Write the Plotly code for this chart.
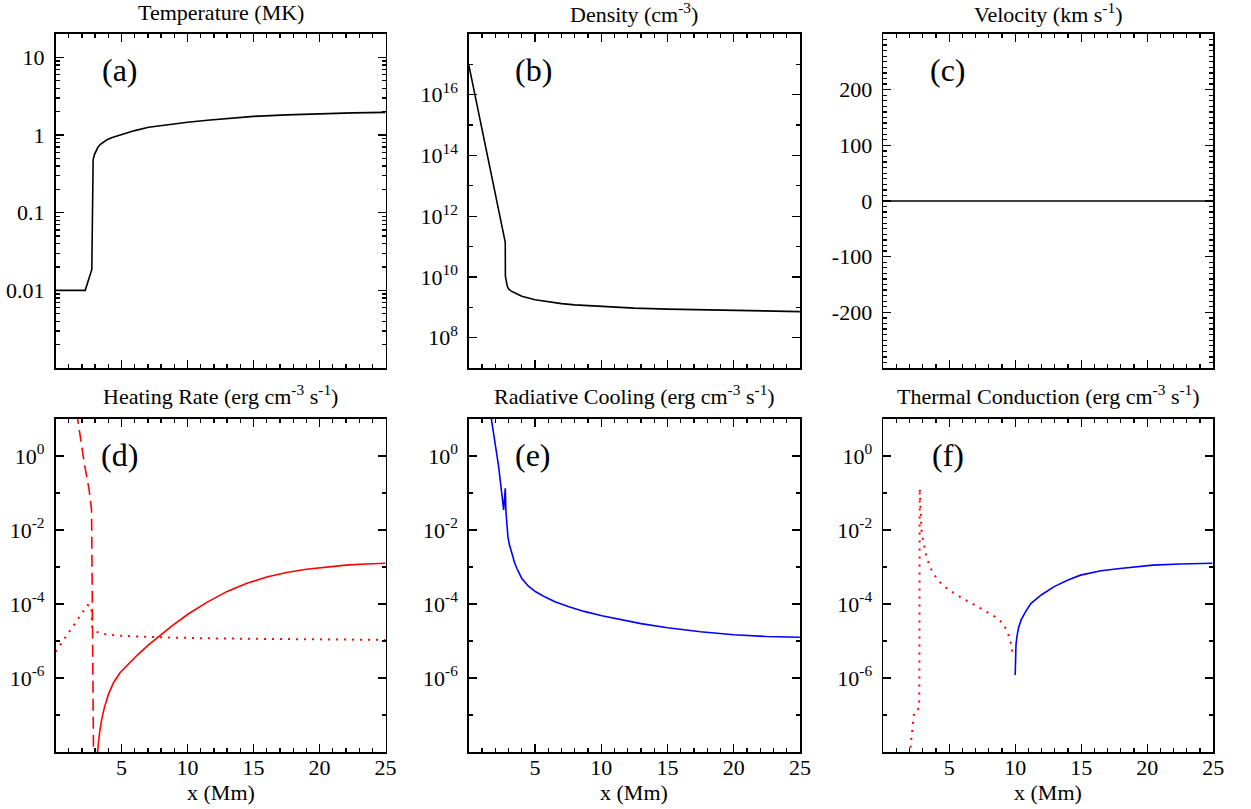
import plotly.graph_objects as go

# ---------------- data ----------------
# (a) Temperature (MK)
temp_x = [0, 2.25, 2.75, 2.78, 2.8, 2.85, 2.95, 3.05, 3.2, 3.4, 3.6, 3.9, 4.3, 4.7, 5.05, 6, 7.05,
          8, 9, 10, 11.5, 13, 15, 17.5, 20, 22.5, 25]
temp_y = [0.01, 0.01, 0.0186, 0.1, 0.35, 0.48, 0.56, 0.62, 0.69, 0.76, 0.81, 0.87, 0.93, 0.98, 1.03,
          1.14, 1.26, 1.33, 1.4, 1.46, 1.55, 1.64, 1.74, 1.82, 1.88, 1.93, 1.96]

# (b) Density (cm^-3)
dens_x = [0, 2.75, 2.76, 2.83, 2.9, 3.0, 3.2, 3.5, 4, 5, 6, 7, 8, 10, 12.5, 15, 17.5, 20, 22.5, 25]
dens_y = [9.5e16, 1.38e11, 1.05e10, 6.3e9, 5.0e9, 4.0e9, 3.4e9, 2.95e9, 2.3e9, 1.78e9, 1.5e9, 1.32e9,
          1.2e9, 1.05e9, 9.4e8, 8.7e8, 8.2e8, 7.8e8, 7.45e8, 7.2e8]

# (c) Velocity (km s^-1)
vel_x = [0, 25]
vel_y = [0, 0]

# (d) Heating rate (log10 of erg cm^-3 s^-1): solid, dashed, dotted
heat_x = [3.18, 3.25, 3.35, 3.5, 3.7, 4.0, 4.4, 4.9, 5.5, 6.2, 7.0, 7.8, 8.8, 10.05, 11.5, 13, 14.5,
          16, 17.5, 19, 20.5, 22, 23.5, 25]
heat_log = [-8.0, -7.75, -7.45, -7.12, -6.8, -6.45, -6.12, -5.85, -5.62, -5.38, -5.12, -4.88, -4.6,
            -4.27, -3.95, -3.66, -3.44, -3.27, -3.15, -3.06, -3.0, -2.95, -2.92, -2.9]
heat_dash_x = [1.6, 1.68, 2.18, 2.55, 2.73, 2.9]
heat_dash_log = [1.19, 1.0, -0.2, -0.92, -1.46, -9.0]
heat_dot_x = [0, 2.43, 2.72, 2.76, 2.93, 3.3, 4, 5, 7.8, 12, 18, 25]
heat_dot_log = [-5.29, -4.03, -4.06, -4.6, -4.7, -4.79, -4.83, -4.86, -4.9, -4.93, -4.95, -4.97]

# (e) Radiative cooling (log10)
rad_x = [1.62, 1.7, 2.25, 2.63, 2.75, 2.8, 2.88, 2.95, 3.05, 3.15, 3.25, 3.45, 3.63, 4.0, 4.5, 5.05,
         5.8, 6.5, 7.5, 8.7, 10.05, 11.5, 13, 15, 17.5, 20, 22.5, 25]
rad_log = [1.19, 1.0, -0.29, -1.46, -0.87, -1.5, -1.9, -2.18, -2.38, -2.52, -2.63, -2.88, -3.04, -3.31,
           -3.52, -3.67, -3.82, -3.94, -4.07, -4.2, -4.32, -4.43, -4.53, -4.64, -4.75, -4.83, -4.88, -4.9]

# (f) Thermal conduction (log10): dotted (red) and solid (blue)
cond_dot_x = [2.0, 2.35, 2.72, 2.74, 2.77, 2.8, 2.84, 2.9, 2.97, 3.1, 3.22, 3.45, 3.72, 4.2, 4.97,
              5.8, 6.71, 7.6, 8.46, 9.08, 9.46, 9.7, 9.83]
cond_dot_log = [-8.1, -6.91, -6.82, -6.05, -0.87, -1.3, -1.73, -2.0, -2.18, -2.43, -2.63, -2.9, -3.13,
                -3.38, -3.62, -3.8, -3.98, -4.15, -4.34, -4.52, -4.79, -5.1, -5.42]
cond_x = [10.0, 10.03, 10.06, 10.13, 10.25, 10.45, 10.8, 11.2, 12, 12.95, 14, 14.95, 16.5, 17.94,
          20.43, 22.5, 24.93]
cond_log = [-5.92, -5.4, -5.1, -4.88, -4.65, -4.43, -4.2, -3.98, -3.75, -3.53, -3.35, -3.22, -3.1,
            -3.04, -2.95, -2.92, -2.9]

# tick labels
x_ticks = [5, 10, 15, 20, 25]
temp_ticks = [0.01, 0.1, 1, 10]
temp_ticktext = ["0.01", "0.1", "1", "10"]
dens_ticks = [1e8, 1e10, 1e12, 1e14, 1e16]
dens_ticktext = ["10<sup>8</sup>", "10<sup>10</sup>", "10<sup>12</sup>", "10<sup>14</sup>", "10<sup>16</sup>"]
vel_ticks = [-200, -100, 0, 100, 200]
vel_ticktext = ["-200", "-100", "0", "100", "200"]
rate_ticks = [1e-6, 1e-4, 1e-2, 1e0]
rate_ticktext = ["10<sup>-6</sup>", "10<sup>-4</sup>", "10<sup>-2</sup>", "10<sup>0</sup>"]

titles = ["Temperature (MK)", "Density (cm<sup>-3</sup>)", "Velocity (km s<sup>-1</sup>)",
          "Heating Rate (erg cm<sup>-3</sup> s<sup>-1</sup>)",
          "Radiative Cooling (erg cm<sup>-3</sup> s<sup>-1</sup>)",
          "Thermal Conduction (erg cm<sup>-3</sup> s<sup>-1</sup>)"]
panel_labels = ["(a)", "(b)", "(c)", "(d)", "(e)", "(f)"]


def delog(vals):
    return [10.0 ** v for v in vals]


# ---------------- figure ----------------
FW, FH = 1251, 809
FONT = "Liberation Serif, Times New Roman, serif"
RED, BLUE, BLACK = "#ff0000", "#0000ff", "#000000"


def px_x(p):
    return p / FW


def px_y(p):
    return 1 - p / FH


fig = go.Figure()


def add(x, y, n, color, dash="solid", width=1.6):
    ax = "" if n == 1 else str(n)
    fig.add_trace(go.Scatter(x=x, y=y, mode="lines", xaxis="x" + ax, yaxis="y" + ax,
                             line=dict(color=color, width=width, dash=dash),
                             showlegend=False, hoverinfo="skip"))


add(temp_x, temp_y, 1, BLACK)
add(dens_x, dens_y, 2, BLACK)
add(vel_x, vel_y, 3, BLACK)
add(heat_dash_x, delog(heat_dash_log), 4, RED, dash="12px,6px")
add(heat_dot_x, delog(heat_dot_log), 4, RED, dash="2px,6px", width=2)
add(heat_x, delog(heat_log), 4, RED)
add(rad_x, delog(rad_log), 5, BLUE)
add(cond_dot_x, delog(cond_dot_log), 6, RED, dash="2px,6px", width=2)
add(cond_x, delog(cond_log), 6, BLUE)

xpx = [(56, 389), (473, 807), (891, 1224)]
xdom = [[px_x(a), px_x(b)] for a, b in xpx]
ydom_top = [px_y(368), px_y(34)]
ydom_bot = [px_y(752), px_y(419)]

tickfont = dict(family=FONT, size=22, color=BLACK)
common = dict(showline=True, linecolor=BLACK, linewidth=1.6, mirror="ticks", ticks="inside",
              tickcolor=BLACK, tickwidth=1.3, showgrid=False, zeroline=False, tickfont=tickfont)


def log_minor(lo, hi):
    vals = []
    for k in range(lo, hi + 1):
        for m in range(2, 10):
            vals.append(m * 10.0 ** k)
    return vals


def minor(**kw):
    d = dict(ticks="inside", ticklen=4, tickcolor=BLACK, tickwidth=1.3, showgrid=False)
    d.update(kw)
    return d


layout = dict(width=FW, height=FH, margin=dict(l=0, r=0, t=0, b=0, pad=0), autosize=False,
              paper_bgcolor="white", plot_bgcolor="white", showlegend=False, hovermode=False)

for i in range(6):
    n = i + 1
    ax = "" if n == 1 else str(n)
    row = 0 if i < 3 else 1
    col = i % 3
    xa = dict(common, domain=xdom[col], range=[0, 25], anchor="y" + ax,
              tickmode="array", tickvals=x_ticks, ticklen=8,
              minor=minor(tickmode="linear", tick0=0, dtick=1),
              showticklabels=(row == 1), ticklabelstandoff=-5)
    ya = dict(common, domain=ydom_top if row == 0 else ydom_bot, anchor="x" + ax, ticklen=8,
              ticklabelstandoff=5)
    if n == 1:
        ya.update(type="log", range=[-3, 1.301], tickmode="array", tickvals=temp_ticks,
                  ticktext=temp_ticktext, minor=minor(tickmode="array", tickvals=log_minor(-3, 1)))
    elif n == 2:
        ya.update(type="log", range=[7, 18], tickmode="array", tickvals=dens_ticks,
                  ticktext=dens_ticktext,
                  minor=minor(tickmode="array", tickvals=[1e9, 1e11, 1e13, 1e15, 1e17]))
    elif n == 3:
        ya.update(type="linear", range=[-300, 300], tickmode="array", tickvals=vel_ticks,
                  ticktext=vel_ticktext, minor=minor(tickmode="linear", tick0=0, dtick=10))
    else:
        ya.update(type="log", range=[-8, 1], tickmode="array", tickvals=rate_ticks,
                  ticktext=rate_ticktext,
                  minor=minor(tickmode="array", tickvals=[1e-7, 1e-5, 1e-3, 1e-1]))
    layout["xaxis" + ax] = xa
    layout["yaxis" + ax] = ya

annotations = []
for i in range(6):
    n = i + 1
    ax = "" if n == 1 else str(n)
    row = 0 if i < 3 else 1
    col = i % 3
    cx = (xdom[col][0] + xdom[col][1]) / 2
    ty = px_y(13 if row == 0 else 395)
    annotations.append(dict(text=titles[i], x=cx, y=ty, xref="paper", yref="paper",
                            xanchor="center", yanchor="middle", showarrow=False,
                            font=dict(family=FONT, size=22, color=BLACK)))
    annotations.append(dict(text=panel_labels[i], x=65 / 333, y=1 - 36 / 334,
                            xref="x" + ax + " domain", yref="y" + ax + " domain",
                            xanchor="center", yanchor="middle", showarrow=False,
                            font=dict(family=FONT, size=32, color=BLACK)))
    if row == 1:
        annotations.append(dict(text="x (Mm)", x=cx, y=px_y(792), xref="paper", yref="paper",
                                xanchor="center", yanchor="middle", showarrow=False,
                                font=dict(family=FONT, size=22, color=BLACK)))
layout["annotations"] = annotations

fig.update_layout(**layout)
# remove the browser's default 8px page margin so the figure sits at the page origin
fig.write_html("out.html", config={"displayModeBar": False, "staticPlot": True},
               post_script="document.body.style.margin='0';document.body.style.overflow='hidden';")
